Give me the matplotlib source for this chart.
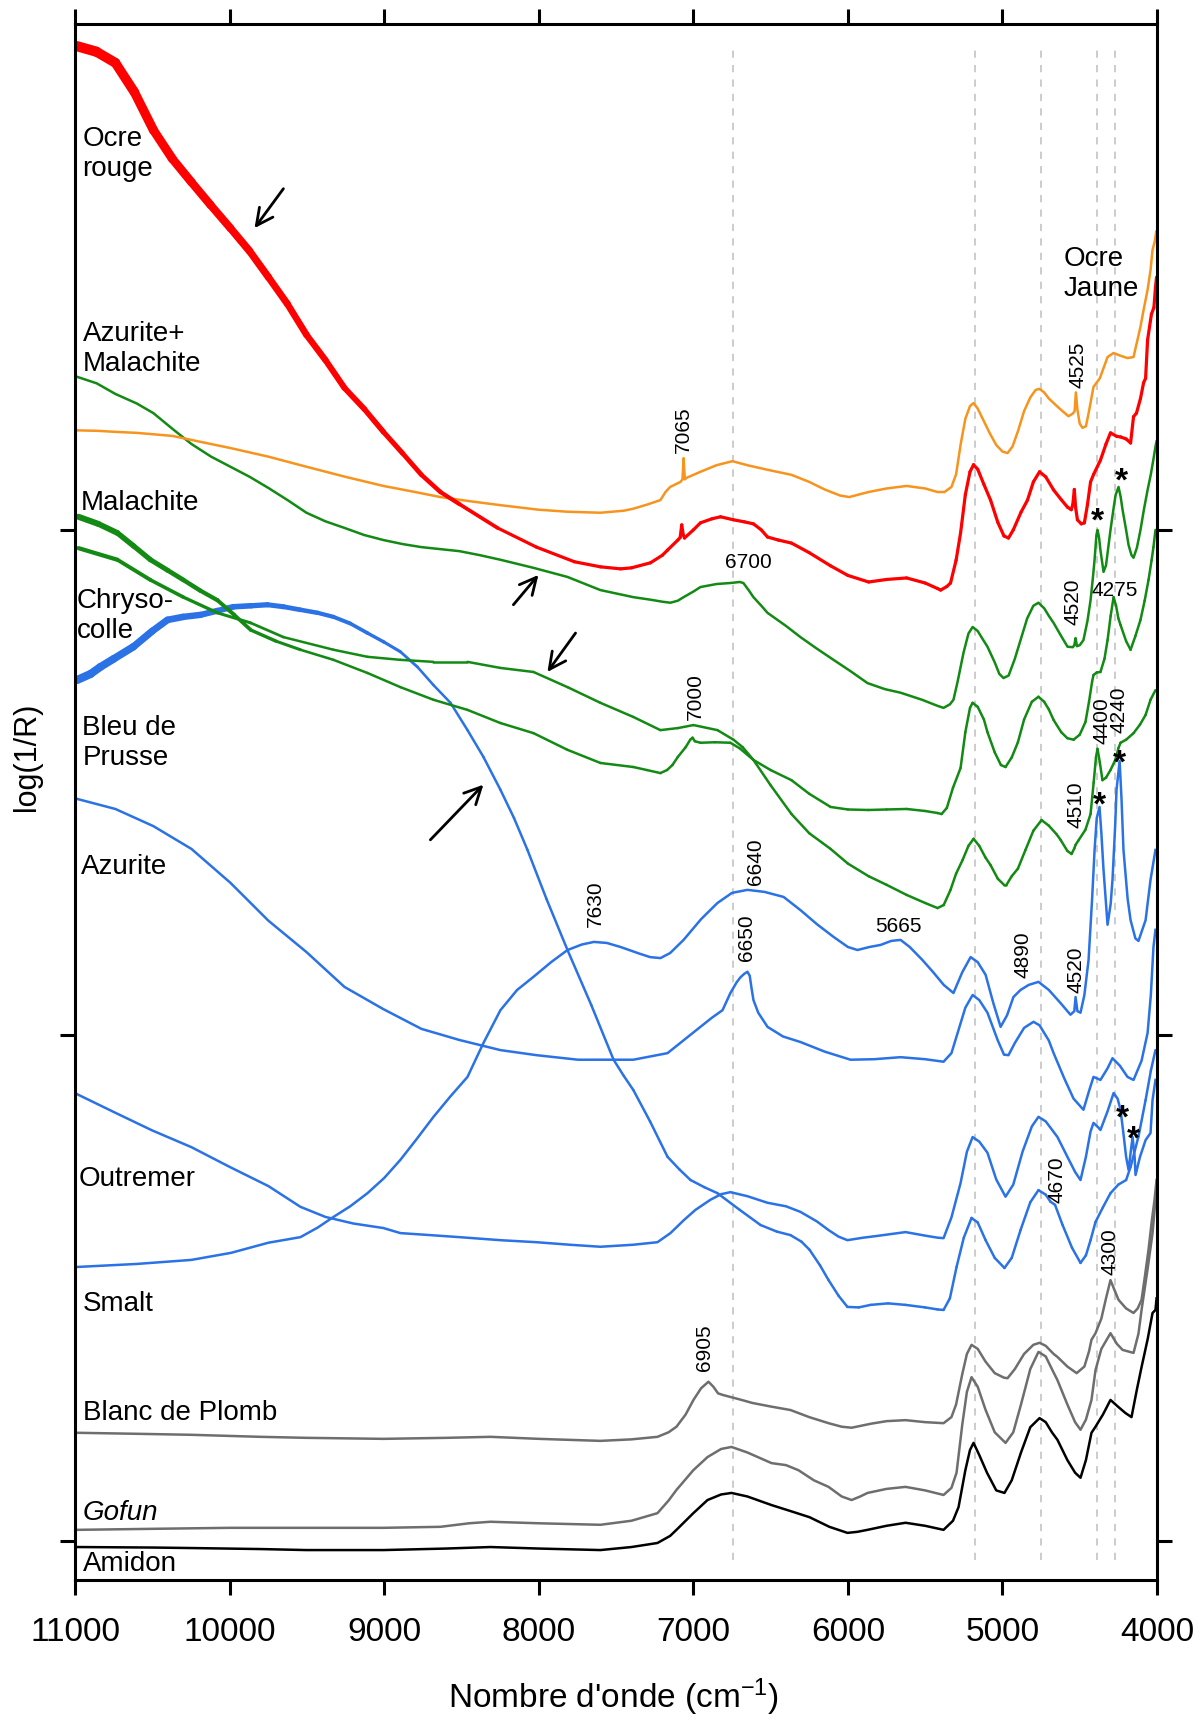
import matplotlib
matplotlib.use('Agg')
import matplotlib.pyplot as plt
from matplotlib.collections import LineCollection
import numpy as np

plt.rcParams['font.family'] = ['Liberation Sans', 'DejaVu Sans']
plt.rcParams['mathtext.fontset'] = 'custom'
plt.rcParams['mathtext.rm'] = 'Liberation Sans'
plt.rcParams['mathtext.it'] = 'Liberation Sans:italic'

# --- spectra: wavenumber (cm-1) and log(1/R) with offsets (arb. units) ---
ocre_rouge_wn = [10988, 10862, 10739, 10616, 10493, 10370, 10247, 10124, 9995, 9872, 9749, 9626, 9503,
                 9380, 9257, 9128, 9005, 8882, 8759, 8636, 8513, 8267, 8015, 7769, 7601, 7471, 7400,
                 7277, 7200, 7167, 7100, 7085, 7075, 7065, 7057, 7000, 6954, 6880, 6824, 6740, 6670,
                 6611, 6560, 6520, 6450, 6365, 6250, 6112, 6000, 5866, 5750, 5620, 5500, 5420, 5400,
                 5360, 5336, 5300, 5271, 5240, 5210, 5187, 5160, 5120, 5077, 5030, 4990, 4961, 4930,
                 4880, 4838, 4800, 4760, 4720, 4669, 4620, 4579, 4555, 4545, 4535, 4527, 4515, 4490,
                 4470, 4450, 4430, 4410, 4366, 4330, 4301, 4260, 4236, 4200, 4171, 4152, 4133, 4107,
                 4087, 4074, 4061, 4036, 4020, 4010, 4003]
ocre_rouge_y = [2.957, 2.946, 2.924, 2.866, 2.791, 2.734, 2.688, 2.643, 2.597, 2.552, 2.500, 2.447, 2.386,
                2.336, 2.281, 2.239, 2.194, 2.152, 2.109, 2.075, 2.051, 2.004, 1.966, 1.937, 1.927, 1.923, 1.925,
                1.935, 1.950, 1.960, 1.980, 1.985, 2.010, 1.990, 1.984, 2.000, 2.014, 2.022, 2.026, 2.020, 2.016,
                2.012, 2.000, 1.986, 1.980, 1.974, 1.955, 1.929, 1.910, 1.897, 1.902, 1.905, 1.895, 1.884, 1.881,
                1.888, 1.895, 1.940, 1.994, 2.070, 2.115, 2.129, 2.120, 2.090, 2.059, 2.015, 1.988, 1.984, 2.000,
                2.035, 2.059, 2.095, 2.115, 2.105, 2.079, 2.060, 2.045, 2.040, 2.050, 2.080, 2.045, 2.020, 2.012,
                2.014, 2.050, 2.095, 2.110, 2.138, 2.170, 2.192, 2.185, 2.184, 2.180, 2.172, 2.224, 2.231, 2.260,
                2.291, 2.300, 2.376, 2.427, 2.440, 2.480, 2.500]

ocre_jaune_wn = [10988, 10850, 10739, 10600, 10370, 10200, 9995, 9750, 9503, 9250, 9005, 8800, 8636,
                 8450, 8248, 8000, 7814, 7601, 7450, 7388, 7300, 7213, 7180, 7150, 7083, 7070, 7063,
                 7055, 7044, 6954, 6850, 6747, 6650, 6520, 6365, 6250, 6150, 6050, 5990, 5930, 5866,
                 5750, 5620, 5500, 5420, 5375, 5330, 5300, 5270, 5240, 5210, 5187, 5160, 5120, 5080,
                 5040, 5000, 4967, 4935, 4900, 4860, 4820, 4785, 4760, 4730, 4700, 4669, 4630, 4600,
                 4573, 4545, 4533, 4525, 4515, 4500, 4482, 4460, 4440, 4411, 4370, 4320, 4281, 4240,
                 4191, 4152, 4107, 4087, 4061, 4042, 4029, 4015, 4005]
ocre_jaune_y = [2.197, 2.196, 2.194, 2.192, 2.186, 2.175, 2.162, 2.145, 2.125, 2.105, 2.087, 2.075, 2.065,
                2.057, 2.049, 2.040, 2.036, 2.034, 2.038, 2.042, 2.050, 2.059, 2.075, 2.085, 2.095, 2.100, 2.142,
                2.100, 2.103, 2.115, 2.128, 2.136, 2.128, 2.119, 2.109, 2.095, 2.080, 2.068, 2.065, 2.070, 2.075,
                2.082, 2.087, 2.082, 2.075, 2.075, 2.085, 2.110, 2.170, 2.220, 2.245, 2.251, 2.240, 2.215, 2.190,
                2.168, 2.155, 2.152, 2.165, 2.195, 2.235, 2.262, 2.277, 2.279, 2.272, 2.260, 2.251, 2.240, 2.232,
                2.225, 2.230, 2.235, 2.272, 2.238, 2.210, 2.202, 2.205, 2.235, 2.283, 2.300, 2.342, 2.350, 2.345,
                2.340, 2.342, 2.402, 2.435, 2.475, 2.514, 2.554, 2.570, 2.590]

azur_mala_wn = [10988, 10860, 10739, 10600, 10493, 10370, 10247, 10120, 9995, 9870, 9749, 9620, 9503,
                9380, 9257, 9130, 9005, 8880, 8759, 8636, 8513, 8380, 8248, 8034, 7814, 7601, 7388,
                7277, 7200, 7148, 7100, 7063, 7000, 6954, 6850, 6760, 6700, 6676, 6640, 6611, 6560,
                6520, 6400, 6307, 6200, 6093, 5980, 5873, 5760, 5659, 5520, 5420, 5381, 5340, 5317,
                5290, 5252, 5220, 5193, 5160, 5130, 5097, 5050, 5020, 4993, 4960, 4920, 4883, 4840,
                4800, 4767, 4730, 4700, 4669, 4620, 4579, 4545, 4535, 4527, 4518, 4500, 4476, 4450,
                4430, 4415, 4404, 4392, 4385, 4375, 4366, 4346, 4330, 4301, 4280, 4268, 4249, 4235,
                4223, 4200, 4184, 4165, 4152, 4130, 4107, 4085, 4061, 4040, 4023, 4010, 4003]
azur_mala_y = [2.303, 2.290, 2.269, 2.250, 2.231, 2.200, 2.170, 2.145, 2.125, 2.105, 2.083, 2.058, 2.034,
               2.017, 2.004, 1.990, 1.980, 1.972, 1.966, 1.962, 1.958, 1.950, 1.941, 1.925, 1.907, 1.881, 1.867,
               1.862, 1.858, 1.856, 1.860, 1.867, 1.878, 1.887, 1.893, 1.895, 1.897, 1.895, 1.880, 1.867, 1.850,
               1.836, 1.810, 1.788, 1.765, 1.743, 1.720, 1.697, 1.685, 1.678, 1.664, 1.652, 1.648, 1.655, 1.664,
               1.700, 1.757, 1.795, 1.808, 1.800, 1.785, 1.769, 1.738, 1.715, 1.707, 1.712, 1.745, 1.782, 1.825,
               1.850, 1.856, 1.845, 1.830, 1.816, 1.790, 1.769, 1.768, 1.772, 1.786, 1.770, 1.772, 1.782, 1.820,
               1.861, 1.905, 1.941, 1.990, 2.000, 1.985, 1.960, 1.917, 1.930, 2.000, 2.045, 2.069, 2.085, 2.065,
               2.040, 2.000, 1.970, 1.950, 1.945, 1.965, 2.000, 2.040, 2.079, 2.110, 2.140, 2.165, 2.175]

malachite_wn = [10978, 10850, 10726, 10620, 10512, 10400, 10299, 10190, 10079, 9970, 9863, 9700, 9542,
                9328, 9108, 8895, 8681, 8461, 8248, 8034, 7814, 7601, 7388, 7300, 7213, 7170, 7135,
                7100, 7050, 7020, 7005, 6990, 6954, 6860, 6760, 6700, 6611, 6500, 6365, 6250, 6112,
                6000, 5866, 5750, 5620, 5500, 5420, 5394, 5360, 5320, 5271, 5240, 5210, 5193, 5160,
                5120, 5097, 5050, 5010, 4980, 4940, 4900, 4860, 4810, 4767, 4730, 4700, 4669, 4620,
                4580, 4540, 4500, 4463, 4440, 4420, 4411, 4390, 4366, 4340, 4320, 4300, 4281, 4265,
                4250, 4236, 4200, 4171, 4140, 4107, 4080, 4055, 4035, 4023, 4010]
malachite_y = [2.026, 2.012, 1.994, 1.968, 1.941, 1.920, 1.901, 1.880, 1.861, 1.832, 1.802, 1.780, 1.763,
               1.743, 1.717, 1.689, 1.664, 1.644, 1.618, 1.598, 1.565, 1.539, 1.531, 1.525, 1.519, 1.525, 1.535,
               1.551, 1.570, 1.585, 1.589, 1.582, 1.579, 1.580, 1.579, 1.568, 1.545, 1.525, 1.505, 1.478, 1.452,
               1.447, 1.446, 1.447, 1.448, 1.444, 1.440, 1.438, 1.450, 1.490, 1.529, 1.600, 1.648, 1.658, 1.650,
               1.625, 1.600, 1.560, 1.535, 1.531, 1.550, 1.580, 1.625, 1.660, 1.670, 1.660, 1.645, 1.624, 1.600,
               1.588, 1.585, 1.595, 1.620, 1.660, 1.700, 1.713, 1.718, 1.719, 1.745, 1.782, 1.830, 1.867, 1.850,
               1.825, 1.812, 1.780, 1.763, 1.790, 1.822, 1.860, 1.901, 1.940, 1.966, 2.000]

chrysocolle_wn = [10978, 10726, 10512, 10299, 10079, 9863, 9652, 9328, 9108, 8895, 8681, 8461, 8248,
                  8034, 7814, 7601, 7388, 7213, 7100, 6999, 6844, 6740, 6680, 6611, 6500, 6365, 6250,
                  6112, 6000, 5866, 5750, 5620, 5500, 5420, 5380, 5336, 5300, 5258, 5220, 5187, 5150,
                  5110, 5077, 5030, 4990, 4974, 4940, 4900, 4851, 4800, 4747, 4700, 4650, 4624, 4580,
                  4553, 4535, 4527, 4510, 4463, 4430, 4410, 4395, 4385, 4370, 4353, 4330, 4301, 4270,
                  4249, 4236, 4200, 4152, 4110, 4074, 4042, 4010]
chrysocolle_y = [1.964, 1.941, 1.901, 1.867, 1.836, 1.816, 1.788, 1.763, 1.749, 1.743, 1.739, 1.739, 1.727,
                 1.719, 1.689, 1.658, 1.630, 1.604, 1.608, 1.614, 1.604, 1.585, 1.570, 1.545, 1.495, 1.438, 1.400,
                 1.369, 1.340, 1.315, 1.298, 1.278, 1.262, 1.252, 1.258, 1.288, 1.320, 1.347, 1.375, 1.389, 1.375,
                 1.352, 1.337, 1.310, 1.298, 1.298, 1.315, 1.330, 1.367, 1.405, 1.426, 1.415, 1.398, 1.387, 1.365,
                 1.359, 1.370, 1.377, 1.385, 1.407, 1.438, 1.500, 1.550, 1.567, 1.540, 1.505, 1.510, 1.525, 1.545,
                 1.569, 1.579, 1.585, 1.598, 1.615, 1.634, 1.664, 1.683]

bleu_prusse_wn = [10988, 10900, 10836, 10750, 10622, 10500, 10402, 10300, 10188, 10080, 9975, 9860, 9755,
                  9650, 9542, 9430, 9328, 9220, 9108, 9000, 8895, 8785, 8681, 8571, 8461, 8358, 8248,
                  8160, 8073, 7950, 7814, 7660, 7516, 7450, 7388, 7280, 7167, 7090, 7018, 6930, 6844,
                  6700, 6565, 6460, 6371, 6300, 6248, 6180, 6125, 6060, 6003, 5930, 5853, 5740, 5627,
                  5500, 5420, 5381, 5340, 5297, 5250, 5200, 5160, 5109, 5050, 4987, 4940, 4883, 4820,
                  4767, 4720, 4689, 4660, 4611, 4550, 4495, 4460, 4430, 4398, 4350, 4301, 4250, 4200,
                  4171, 4120, 4074, 4040, 4010]
bleu_prusse_y = [1.703, 1.715, 1.729, 1.745, 1.769, 1.800, 1.822, 1.828, 1.832, 1.840, 1.848, 1.850, 1.852,
                 1.848, 1.842, 1.836, 1.828, 1.815, 1.796, 1.778, 1.759, 1.729, 1.693, 1.658, 1.604, 1.551, 1.486,
                 1.430, 1.367, 1.270, 1.169, 1.060, 0.952, 0.920, 0.892, 0.830, 0.760, 0.735, 0.714, 0.700, 0.688,
                 0.655, 0.625, 0.612, 0.605, 0.592, 0.576, 0.545, 0.516, 0.485, 0.463, 0.462, 0.467, 0.470, 0.467,
                 0.462, 0.458, 0.457, 0.480, 0.542, 0.600, 0.639, 0.630, 0.595, 0.560, 0.540, 0.560, 0.615, 0.670,
                 0.694, 0.685, 0.671, 0.665, 0.625, 0.580, 0.550, 0.565, 0.595, 0.631, 0.660, 0.688, 0.705, 0.714,
                 0.740, 0.800, 0.872, 0.930, 0.971]

azurite_wn = [10988, 10739, 10493, 10247, 9995, 9749, 9503, 9257, 9005, 8759, 8513, 8248, 8015, 7746,
              7388, 7167, 6954, 6880, 6811, 6760, 6720, 6695, 6670, 6650, 6635, 6624, 6611, 6580, 6520,
              6420, 6307, 6150, 5983, 5830, 5659, 5500, 5381, 5330, 5290, 5240, 5193, 5150, 5097, 5030,
              4990, 4961, 4920, 4860, 4799, 4760, 4700, 4669, 4600, 4540, 4476, 4440, 4411, 4366, 4320,
              4288, 4240, 4191, 4152, 4100, 4061, 4040, 4023, 4010]
azurite_y = [1.468, 1.448, 1.414, 1.369, 1.302, 1.227, 1.165, 1.096, 1.052, 1.013, 0.991, 0.971, 0.961, 0.952,
             0.952, 0.965, 1.017, 1.035, 1.050, 1.084, 1.105, 1.115, 1.122, 1.126, 1.118, 1.095, 1.070, 1.045, 1.017,
             0.998, 0.987, 0.968, 0.952, 0.953, 0.957, 0.953, 0.948, 0.965, 1.005, 1.055, 1.080, 1.070, 1.045, 0.990,
             0.962, 0.961, 0.985, 1.015, 1.027, 1.020, 0.990, 0.965, 0.915, 0.875, 0.853, 0.890, 0.918, 0.912, 0.935,
             0.955, 0.940, 0.918, 0.912, 0.950, 1.005, 1.080, 1.175, 1.209]

smalt_wn = [10988, 10600, 10247, 9990, 9749, 9542, 9430, 9328, 9220, 9108, 9000, 8895, 8790, 8681,
            8570, 8461, 8358, 8248, 8140, 8034, 7920, 7814, 7720, 7643, 7560, 7471, 7350, 7280, 7213,
            7150, 7063, 6950, 6844, 6750, 6650, 6540, 6416, 6307, 6200, 6093, 6000, 5938, 5860, 5789,
            5720, 5659, 5600, 5520, 5445, 5380, 5317, 5260, 5206, 5160, 5109, 5060, 5012, 4970, 4929,
            4883, 4830, 4767, 4700, 4624, 4560, 4535, 4527, 4515, 4495, 4470, 4443, 4420, 4404, 4390,
            4372, 4360, 4346, 4320, 4300, 4288, 4270, 4262, 4242, 4230, 4217, 4190, 4171, 4140, 4120,
            4074, 4042, 4010]
smalt_y = [0.542, 0.548, 0.556, 0.570, 0.590, 0.601, 0.620, 0.641, 0.662, 0.688, 0.718, 0.754, 0.795, 0.839,
           0.880, 0.918, 0.985, 1.050, 1.090, 1.116, 1.145, 1.169, 1.180, 1.185, 1.183, 1.175, 1.162, 1.155, 1.153,
           1.163, 1.189, 1.230, 1.262, 1.282, 1.288, 1.284, 1.274, 1.248, 1.220, 1.195, 1.175, 1.169, 1.175, 1.179,
           1.187, 1.189, 1.175, 1.150, 1.124, 1.100, 1.084, 1.125, 1.155, 1.145, 1.120, 1.065, 1.017, 1.040, 1.076,
           1.090, 1.100, 1.106, 1.090, 1.064, 1.041, 1.048, 1.076, 1.048, 1.045, 1.080, 1.149, 1.270, 1.367, 1.430,
           1.452, 1.400, 1.327, 1.219, 1.260, 1.308, 1.420, 1.486, 1.543, 1.470, 1.367, 1.270, 1.228, 1.192, 1.187,
           1.228, 1.308, 1.367]

outremer_wn = [10988, 10739, 10500, 10247, 10000, 9749, 9542, 9380, 9200, 9005, 8895, 8700, 8513, 8248,
               8015, 7800, 7601, 7388, 7232, 7148, 7060, 6986, 6889, 6820, 6760, 6650, 6520, 6400, 6307,
               6200, 6125, 6060, 6003, 5900, 5821, 5700, 5627, 5500, 5420, 5381, 5330, 5271, 5230, 5193,
               5150, 5097, 5040, 4980, 4930, 4870, 4810, 4767, 4720, 4644, 4580, 4530, 4495, 4460, 4430,
               4411, 4380, 4366, 4320, 4281, 4255, 4236, 4215, 4200, 4184, 4170, 4158, 4145, 4139, 4110,
               4074, 4042, 4029, 4010]
outremer_y = [0.884, 0.847, 0.812, 0.779, 0.740, 0.702, 0.661, 0.641, 0.628, 0.619, 0.609, 0.605, 0.601, 0.595,
              0.591, 0.586, 0.582, 0.586, 0.591, 0.609, 0.635, 0.655, 0.675, 0.686, 0.690, 0.682, 0.669, 0.662, 0.651,
              0.632, 0.615, 0.602, 0.595, 0.600, 0.603, 0.608, 0.611, 0.604, 0.600, 0.599, 0.640, 0.708, 0.770, 0.799,
              0.790, 0.768, 0.715, 0.681, 0.705, 0.770, 0.820, 0.839, 0.830, 0.799, 0.760, 0.730, 0.714, 0.760, 0.810,
              0.827, 0.818, 0.813, 0.850, 0.886, 0.875, 0.853, 0.800, 0.760, 0.734, 0.770, 0.799, 0.760, 0.724, 0.760,
              0.793, 0.807, 0.872, 0.912]

blanc_plomb_wn = [10988, 10600, 10247, 9800, 9503, 9005, 8600, 8312, 8000, 7601, 7400, 7232, 7160, 7109,
                  7050, 6999, 6950, 6902, 6870, 6840, 6811, 6700, 6618, 6500, 6371, 6250, 6125, 6040, 5976,
                  5850, 5750, 5627, 5500, 5381, 5330, 5300, 5260, 5230, 5200, 5160, 5110, 5050, 4990, 4967,
                  4920, 4860, 4800, 4760, 4720, 4669, 4644, 4580, 4520, 4470, 4440, 4424, 4398, 4360, 4330,
                  4301, 4280, 4249, 4200, 4152, 4125, 4100, 4080, 4055, 4035, 4016, 4003]
blanc_plomb_y = [0.214, 0.212, 0.210, 0.206, 0.204, 0.202, 0.204, 0.206, 0.202, 0.198, 0.201, 0.206, 0.215, 0.226,
                 0.250, 0.279, 0.302, 0.315, 0.305, 0.292, 0.289, 0.280, 0.273, 0.266, 0.259, 0.245, 0.233, 0.226, 0.224,
                 0.232, 0.237, 0.239, 0.235, 0.233, 0.245, 0.270, 0.330, 0.370, 0.388, 0.380, 0.355, 0.332, 0.323, 0.322,
                 0.340, 0.370, 0.388, 0.392, 0.386, 0.370, 0.364, 0.345, 0.332, 0.345, 0.375, 0.398, 0.411, 0.440, 0.480,
                 0.516, 0.500, 0.477, 0.460, 0.451, 0.460, 0.477, 0.520, 0.576, 0.630, 0.675, 0.714]

gofun_wn = [10988, 10500, 9995, 9500, 9005, 8636, 8450, 8312, 8000, 7601, 7400, 7232, 7160, 7109, 7000,
            6908, 6820, 6753, 6650, 6494, 6400, 6320, 6220, 6125, 6040, 5976, 5920, 5873, 5750, 5627,
            5500, 5381, 5330, 5297, 5260, 5230, 5200, 5160, 5110, 5050, 4980, 4930, 4880, 4820, 4767,
            4720, 4680, 4644, 4580, 4530, 4495, 4460, 4424, 4398, 4360, 4301, 4260, 4223, 4152, 4120,
            4100, 4060, 4029, 4010]
gofun_y = [0.022, 0.024, 0.026, 0.026, 0.026, 0.028, 0.035, 0.038, 0.035, 0.032, 0.040, 0.055, 0.080, 0.101, 0.140,
           0.166, 0.182, 0.186, 0.175, 0.154, 0.150, 0.140, 0.120, 0.107, 0.088, 0.081, 0.088, 0.095, 0.103, 0.107,
           0.100, 0.091, 0.105, 0.135, 0.230, 0.295, 0.324, 0.305, 0.260, 0.215, 0.194, 0.215, 0.270, 0.340, 0.374,
           0.365, 0.340, 0.318, 0.270, 0.235, 0.220, 0.240, 0.279, 0.338, 0.380, 0.411, 0.390, 0.378, 0.372, 0.410,
           0.457, 0.540, 0.609, 0.675]

amidon_wn = [10988, 10500, 10247, 9800, 9503, 9005, 8600, 8312, 8000, 7601, 7400, 7232, 7150, 7109, 7000,
             6908, 6820, 6753, 6650, 6494, 6380, 6248, 6120, 6003, 5940, 5873, 5750, 5627, 5500, 5381,
             5320, 5284, 5240, 5210, 5187, 5150, 5100, 5040, 4987, 4940, 4880, 4820, 4760, 4720, 4680,
             4644, 4580, 4530, 4495, 4460, 4424, 4398, 4350, 4301, 4250, 4204, 4165, 4130, 4100, 4060,
             4029, 4010, 4003]
amidon_y = [-0.012, -0.013, -0.014, -0.016, -0.018, -0.018, -0.015, -0.012, -0.015, -0.018, -0.012, -0.004, 0.010,
            0.022, 0.055, 0.081, 0.092, 0.095, 0.088, 0.071, 0.060, 0.047, 0.028, 0.016, 0.018, 0.022, 0.030, 0.036,
            0.030, 0.022, 0.040, 0.067, 0.140, 0.180, 0.194, 0.170, 0.135, 0.100, 0.095, 0.120, 0.175, 0.225, 0.243,
            0.235, 0.215, 0.200, 0.160, 0.135, 0.125, 0.160, 0.214, 0.226, 0.250, 0.279, 0.265, 0.253, 0.245, 0.300,
            0.344, 0.400, 0.451, 0.457, 0.480]

# band positions marked by dashed lines
guide_wn = [6745, 5180, 4750, 4390, 4275]

red = '#ff0000'
orange = '#f7941d'
green = '#138a13'
blue = '#2a72e5'
grey = '#6e6e6e'

fig = plt.figure(figsize=(11.97, 17.2), dpi=100)
ax = fig.add_axes([0.0627, 0.0814, 0.9039, 0.9047])

ax.vlines(guide_wn, -0.038, 2.953, colors='#c8c8c8', linestyles=(0, (4, 4)), lw=1.3, zorder=0)


def draw(wn, y, color, lw, lw_left=None, noisy_to=None):
    # the noisy short-wavelength end of some spectra is drawn as a tapering thicker line
    wn = np.asarray(wn, dtype=float)
    y = np.asarray(y, dtype=float)
    if lw_left is None:
        ax.plot(wn, y, color=color, lw=lw, solid_joinstyle='round')
        return
    pts = np.column_stack([wn, y])
    segs = np.stack([pts[:-1], pts[1:]], axis=1)
    mid = (wn[:-1] + wn[1:]) / 2
    f = np.clip((mid - noisy_to) / (11000 - noisy_to), 0, 1)
    widths = lw + (lw_left - lw) * f
    lc = LineCollection(segs, colors=color, linewidths=widths, capstyle='round', joinstyle='round')
    ax.add_collection(lc)


draw(amidon_wn, amidon_y, 'black', 1.8)
draw(gofun_wn, gofun_y, grey, 1.8)
draw(blanc_plomb_wn, blanc_plomb_y, grey, 1.8)
draw(outremer_wn, outremer_y, blue, 1.8)
draw(smalt_wn, smalt_y, blue, 1.8)
draw(azurite_wn, azurite_y, blue, 1.8)
draw(bleu_prusse_wn, bleu_prusse_y, blue, 1.8, lw_left=6.0, noisy_to=8700)
draw(chrysocolle_wn, chrysocolle_y, green, 1.8, lw_left=3.2, noisy_to=9600)
draw(malachite_wn, malachite_y, green, 1.8, lw_left=4.5, noisy_to=9400)
draw(azur_mala_wn, azur_mala_y, green, 1.8)
draw(ocre_jaune_wn, ocre_jaune_y, orange, 1.8)
draw(ocre_rouge_wn, ocre_rouge_y, red, 2.3, lw_left=7.5, noisy_to=8200)

ax.set_xlim(11000, 4000)
ax.set_ylim(-0.0772, 3.001)
ax.set_xticks(range(4000, 11001, 1000))
ax.set_yticks([0, 1, 2])
ax.set_yticklabels([])
ax.tick_params(axis='both', direction='out', length=11, width=2.2, top=True, right=True,
               labeltop=False, labelright=False, labelsize=24, pad=16)
for s in ax.spines.values():
    s.set_linewidth(2.2)

# sample names
name_fs = 20
ax.text(10952, 2.743, 'Ocre\nrouge', fontsize=name_fs, ha='left', va='center', linespacing=1.2)
ax.text(10952, 2.357, 'Azurite+\nMalachite', fontsize=name_fs, ha='left', va='center', linespacing=1.2)
ax.text(10965, 2.053, 'Malachite', fontsize=name_fs, ha='left', va='center')
ax.text(10990, 1.829, 'Chryso-\ncolle', fontsize=name_fs, ha='left', va='center', linespacing=1.2)
ax.text(10952, 1.578, 'Bleu de\nPrusse', fontsize=name_fs, ha='left', va='center', linespacing=1.2)
ax.text(10965, 1.333, 'Azurite', fontsize=name_fs, ha='left', va='center')
ax.text(10978, 0.716, 'Outremer', fontsize=name_fs, ha='left', va='center')
ax.text(10952, 0.469, 'Smalt', fontsize=name_fs, ha='left', va='center')
ax.text(10946, 0.253, 'Blanc de Plomb', fontsize=name_fs, ha='left', va='center')
ax.text(10952, 0.055, 'Gofun', fontsize=name_fs, ha='left', va='center', style='italic')
ax.text(10952, -0.045, 'Amidon', fontsize=name_fs, ha='left', va='center')
ax.text(4605, 2.507, 'Ocre\nJaune', fontsize=name_fs, ha='left', va='center', linespacing=1.2)

# band labels
pk_fs = 15
vert_labels = [(7063, 2.198, '7065'), (4513, 2.326, '4525'), (4546, 1.858, '4520'),
               (6986, 1.670, '7000'), (4353, 1.622, '4400'), (4249, 1.644, '4240'),
               (4527, 1.456, '4510'), (6598, 1.343, '6640'), (7633, 1.260, '7630'),
               (6655, 1.193, '6650'), (4870, 1.159, '4890'), (4527, 1.130, '4520'),
               (4644, 0.714, '4670'), (4301, 0.572, '4300'), (6928, 0.382, '6905')]
for x, y, t in vert_labels:
    ax.text(x, y, t, fontsize=pk_fs, rotation=90, ha='center', va='center')
for x, y, t in [(6643, 1.935, '6700'), (4275, 1.881, '4275'), (5672, 1.215, '5665')]:
    ax.text(x, y, t, fontsize=pk_fs, ha='center', va='center')

# azurite bands marked with *
stars = [(4385, 2.030), (4230, 2.109), (4372, 1.468), (4242, 1.551), (4223, 0.849), (4152, 0.809)]
for x, y in stars:
    ax.text(x, y - 0.015, '*', fontsize=24, ha='center', va='center', fontweight='bold')

# arrows
arrows = [((9652, 2.675), (9839, 2.597)), ((8164, 1.852), (8002, 1.911)),
          ((7762, 1.796), (7944, 1.719)), ((8701, 1.387), (8358, 1.496))]
for tail, head in arrows:
    ax.annotate('', xy=head, xytext=tail,
                arrowprops=dict(arrowstyle='->', lw=2, color='black', mutation_scale=30,
                                shrinkA=0, shrinkB=0))

fig.text(614 / 1197, 1 - 1697 / 1720, "Nombre d'onde (cm$^{-1}$)", fontsize=24, ha='center', va='center')
fig.text(27 / 1197, 1 - 757 / 1720, 'log(1/R)', fontsize=22, rotation=90, ha='center', va='center')

fig.savefig('out.png', dpi=100)
